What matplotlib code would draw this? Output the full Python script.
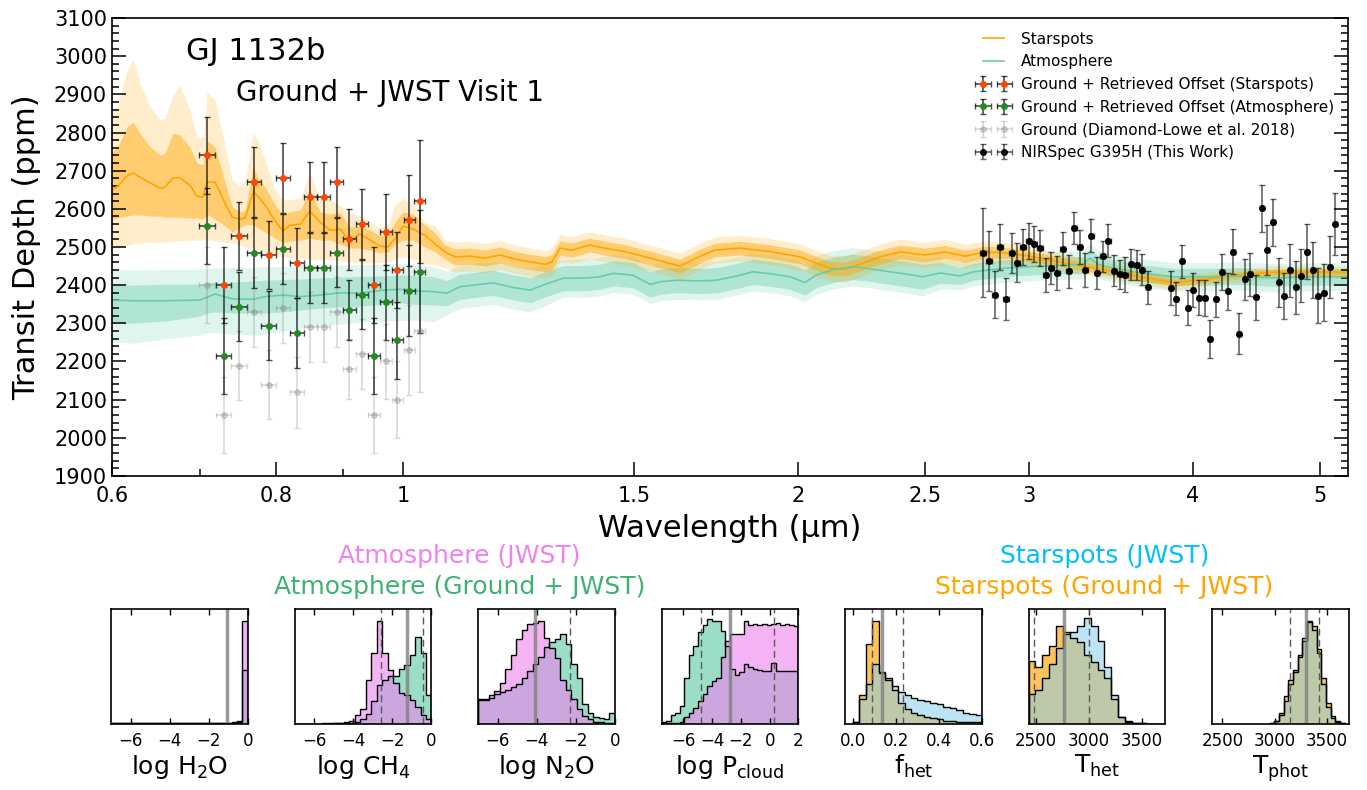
import numpy as np
import matplotlib.pyplot as plt
from matplotlib.ticker import FixedLocator, FixedFormatter, LogLocator, NullFormatter, MultipleLocator

# ---------------- transmission spectrum data ----------------
# ground-based points (Diamond-Lowe et al. 2018)
ground_wl = [0.709, 0.730, 0.750, 0.770, 0.790, 0.810, 0.830, 0.850, 0.870,
             0.890, 0.910, 0.930, 0.950, 0.970, 0.990, 1.011, 1.030]
ground_depth = [2400, 2060, 2189, 2330, 2139, 2340, 2119, 2290, 2290,
                2330, 2180, 2220, 2060, 2200, 2100, 2230, 2280]
ground_err = [100, 99, 90, 92, 90, 92, 92, 92, 92, 91, 79, 91, 100, 99, 100, 119, 161]
ground_halfwidth = 0.01
offset_spots = 340   # retrieved offset, starspot model
offset_atm = 155     # retrieved offset, atmosphere model

# NIRSpec G395H
nirspec_wl = [2.768, 2.796, 2.824, 2.852, 2.881, 2.909, 2.939, 2.968, 2.998, 3.028,
              3.058, 3.089, 3.120, 3.151, 3.183, 3.215, 3.247, 3.279, 3.312, 3.345,
              3.379, 3.413, 3.447, 3.481, 3.516, 3.552, 3.587, 3.623, 3.659, 3.696,
              3.846, 3.885, 3.924, 3.963, 4.003, 4.043, 4.083, 4.124, 4.166, 4.207,
              4.250, 4.292, 4.335, 4.379, 4.422, 4.467, 4.512, 4.557, 4.602, 4.648,
              4.695, 4.742, 4.790, 4.838, 4.886, 4.935, 4.984, 5.034, 5.085, 5.136]
nirspec_depth = [2485, 2463, 2375, 2500, 2365, 2484, 2459, 2500, 2515, 2507,
                 2497, 2427, 2444, 2431, 2496, 2436, 2551, 2500, 2440, 2530,
                 2432, 2476, 2516, 2438, 2428, 2427, 2455, 2453, 2441, 2394,
                 2393, 2365, 2462, 2341, 2387, 2367, 2366, 2260, 2363, 2434,
                 2384, 2488, 2273, 2415, 2428, 2368, 2601, 2492, 2565, 2408,
                 2372, 2439, 2394, 2425, 2488, 2440, 2372, 2380, 2447, 2561]
nirspec_err = [116, 78, 61, 59, 55, 52, 51, 48, 47, 47,
               47, 45, 42, 45, 42, 44, 42, 44, 44, 43,
               41, 41, 43, 41, 39, 46, 41, 39, 41, 44,
               44, 44, 44, 45, 44, 46, 48, 50, 46, 48,
               48, 58, 53, 53, 57, 59, 62, 66, 62, 64,
               61, 69, 69, 70, 71, 74, 72, 75, 81, 81]
nirspec_halfwidth = 0.014

# starspot model: median, 1 sigma and 2 sigma envelopes
spot_wl = [0.600, 0.6065, 0.616, 0.623, 0.630, 0.6415, 0.653, 0.6585, 0.668, 0.676,
           0.688, 0.6965, 0.704, 0.709, 0.719, 0.732, 0.741, 0.751, 0.758, 0.769,
           0.775, 0.785, 0.799, 0.810, 0.820, 0.835, 0.849, 0.8645, 0.880, 0.895,
           0.911, 0.927, 0.944, 0.960, 0.974, 0.986, 1.000, 1.018, 1.039, 1.058,
           1.0765, 1.0955, 1.125, 1.155, 1.186, 1.217, 1.250, 1.283, 1.299, 1.317,
           1.345, 1.388, 1.425, 1.476, 1.5425, 1.626, 1.684, 1.729, 1.806, 1.904,
           2.007, 2.1155, 2.172, 2.230, 2.309, 2.392, 2.499, 2.588, 2.681, 2.777,
           2.901, 3.058, 3.2515, 3.427, 3.644, 3.875, 4.085, 4.344, 4.619, 4.911, 5.259]
spot_med = [2649, 2660, 2686, 2694, 2683, 2668, 2654, 2657, 2681, 2681,
            2662, 2633, 2631, 2670, 2670, 2613, 2578, 2573, 2576, 2644,
            2633, 2610, 2568, 2542, 2557, 2560, 2594, 2565, 2544, 2547,
            2516, 2534, 2518, 2502, 2500, 2523, 2555, 2547, 2531, 2508,
            2487, 2474, 2476, 2471, 2479, 2468, 2461, 2455, 2461, 2497,
            2492, 2505, 2497, 2488, 2471, 2450, 2476, 2492, 2497, 2488,
            2474, 2444, 2442, 2455, 2474, 2487, 2479, 2487, 2476, 2487,
            2484, 2471, 2453, 2440, 2422, 2406, 2416, 2427, 2434, 2434, 2434]
spot_hi1 = [2749, 2764, 2814, 2827, 2799, 2762, 2741, 2746, 2799, 2793,
            2762, 2720, 2715, 2780, 2762, 2668, 2605, 2592, 2597, 2709,
            2681, 2657, 2610, 2584, 2592, 2597, 2649, 2592, 2586, 2592,
            2552, 2555, 2544, 2529, 2534, 2565, 2592, 2586, 2558, 2537,
            2505, 2495, 2497, 2492, 2500, 2488, 2481, 2475, 2481, 2516,
            2511, 2523, 2515, 2506, 2489, 2468, 2494, 2510, 2515, 2506,
            2492, 2462, 2460, 2473, 2492, 2505, 2497, 2504, 2492, 2502,
            2498, 2484, 2464, 2450, 2432, 2415, 2425, 2435, 2442, 2442, 2442]
spot_lo1 = [2573, 2576, 2581, 2584, 2584, 2581, 2581, 2578, 2578, 2578,
            2576, 2576, 2573, 2586, 2573, 2555, 2539, 2550, 2560, 2558,
            2550, 2539, 2523, 2510, 2516, 2518, 2523, 2518, 2518, 2508,
            2497, 2497, 2492, 2484, 2487, 2508, 2518, 2518, 2500, 2487,
            2468, 2453, 2455, 2450, 2458, 2448, 2441, 2435, 2441, 2478,
            2473, 2487, 2479, 2470, 2453, 2432, 2458, 2474, 2479, 2470,
            2456, 2426, 2424, 2437, 2456, 2469, 2461, 2470, 2460, 2472,
            2470, 2458, 2442, 2430, 2412, 2397, 2407, 2419, 2426, 2426, 2426]
spot_hi2 = [2846, 2872, 2964, 2990, 2930, 2867, 2833, 2838, 2898, 2924,
            2859, 2788, 2788, 2906, 2885, 2762, 2675, 2660, 2675, 2799,
            2780, 2728, 2649, 2623, 2623, 2628, 2694, 2628, 2623, 2610,
            2589, 2581, 2565, 2550, 2560, 2610, 2628, 2607, 2565, 2555,
            2518, 2513, 2515, 2510, 2517, 2505, 2498, 2491, 2497, 2533,
            2527, 2540, 2532, 2523, 2505, 2484, 2510, 2526, 2531, 2522,
            2508, 2478, 2476, 2489, 2508, 2521, 2512, 2520, 2507, 2516,
            2511, 2496, 2475, 2460, 2441, 2424, 2433, 2443, 2450, 2450, 2450]
spot_lo2 = [2497, 2500, 2505, 2508, 2510, 2513, 2513, 2513, 2516, 2516,
            2518, 2518, 2518, 2518, 2516, 2513, 2510, 2505, 2500, 2495,
            2492, 2487, 2479, 2474, 2471, 2471, 2468, 2468, 2466, 2463,
            2461, 2458, 2458, 2458, 2461, 2471, 2474, 2468, 2458, 2453,
            2445, 2434, 2437, 2432, 2441, 2431, 2424, 2419, 2425, 2461,
            2457, 2470, 2462, 2453, 2437, 2416, 2442, 2458, 2463, 2454,
            2440, 2410, 2408, 2421, 2440, 2453, 2446, 2454, 2445, 2458,
            2457, 2446, 2431, 2420, 2403, 2388, 2399, 2411, 2418, 2418, 2418]

# atmosphere model
atm_wl = [0.600, 0.623, 0.6585, 0.700, 0.709, 0.719, 0.741, 0.769, 0.785, 0.810,
          0.835, 0.8645, 0.895, 0.927, 0.9655, 0.9947, 1.025, 1.054, 1.080, 1.105,
          1.131, 1.171, 1.213, 1.250, 1.278, 1.324, 1.381, 1.413, 1.446, 1.497,
          1.543, 1.570, 1.618, 1.684, 1.734, 1.796, 1.848, 1.914, 1.972, 2.024,
          2.067, 2.126, 2.200, 2.256, 2.350, 2.420, 2.489, 2.566, 2.658, 2.720,
          2.887, 3.058, 3.240, 3.292, 3.338, 3.385, 3.439, 3.644, 3.862, 4.099,
          4.344, 4.603, 4.886, 5.259]
atm_med = [2361, 2359, 2359, 2361, 2368, 2377, 2364, 2363, 2370, 2374,
           2370, 2374, 2380, 2379, 2387, 2389, 2385, 2383, 2379, 2396,
           2400, 2406, 2394, 2387, 2400, 2418, 2419, 2422, 2431, 2426,
           2402, 2409, 2413, 2411, 2413, 2424, 2435, 2429, 2422, 2407,
           2427, 2440, 2448, 2444, 2435, 2429, 2422, 2432, 2424, 2435,
           2445, 2450, 2453, 2453, 2471, 2455, 2448, 2432, 2422, 2422,
           2424, 2419, 2422, 2422]
atm_hi1 = [2400, 2400, 2402, 2403, 2406, 2408, 2408, 2411, 2413, 2415,
           2416, 2419, 2421, 2423, 2424, 2427, 2425, 2422, 2412, 2429,
           2433, 2439, 2427, 2420, 2433, 2451, 2452, 2455, 2464, 2459,
           2435, 2442, 2446, 2444, 2446, 2457, 2468, 2462, 2455, 2440,
           2460, 2473, 2481, 2477, 2468, 2462, 2455, 2459, 2446, 2457,
           2467, 2472, 2475, 2475, 2493, 2477, 2470, 2454, 2444, 2444,
           2446, 2441, 2444, 2444]
atm_lo1 = [2301, 2301, 2306, 2319, 2327, 2330, 2327, 2327, 2327, 2330,
           2335, 2340, 2343, 2345, 2350, 2353, 2350, 2348, 2346, 2363,
           2367, 2373, 2361, 2354, 2367, 2385, 2386, 2389, 2398, 2393,
           2369, 2376, 2380, 2378, 2380, 2391, 2402, 2396, 2389, 2374,
           2394, 2407, 2415, 2411, 2402, 2396, 2389, 2405, 2402, 2413,
           2423, 2428, 2431, 2431, 2449, 2433, 2426, 2410, 2400, 2400,
           2402, 2397, 2400, 2400]
atm_hi2 = [2440, 2440, 2441, 2442, 2444, 2445, 2446, 2447, 2448, 2449,
           2450, 2451, 2453, 2454, 2455, 2457, 2454, 2448, 2436, 2453,
           2457, 2463, 2451, 2444, 2457, 2468, 2469, 2472, 2481, 2476,
           2452, 2459, 2463, 2461, 2463, 2474, 2485, 2479, 2472, 2457,
           2477, 2490, 2498, 2494, 2485, 2479, 2472, 2474, 2461, 2472,
           2482, 2487, 2490, 2490, 2508, 2492, 2485, 2469, 2459, 2459,
           2461, 2456, 2459, 2459]
atm_lo2 = [2251, 2248, 2259, 2269, 2275, 2275, 2272, 2269, 2272, 2280,
           2288, 2293, 2298, 2303, 2306, 2307, 2309, 2304, 2322, 2339,
           2343, 2349, 2337, 2330, 2343, 2368, 2369, 2372, 2381, 2376,
           2352, 2359, 2363, 2361, 2363, 2374, 2385, 2379, 2372, 2357,
           2377, 2390, 2398, 2394, 2385, 2379, 2372, 2390, 2387, 2398,
           2408, 2413, 2416, 2416, 2434, 2418, 2411, 2395, 2385, 2385,
           2387, 2382, 2385, 2385]

# ---------------- posterior histograms (normalised heights) ----------------
h2o_jwst = [0.005, 0.005, 0.005, 0.005, 0.005, 0.005, 0.005, 0.005, 0.005, 0.005,
            0.005, 0.005, 0.005, 0.005, 0.005, 0.005, 0.005, 0.005, 0.005, 0.005,
            0.006, 0.008, 0.010, 0.020, 0.900]
h2o_joint = [0.006, 0.006, 0.006, 0.006, 0.006, 0.006, 0.006, 0.006, 0.006, 0.006,
             0.006, 0.006, 0.006, 0.006, 0.006, 0.006, 0.006, 0.007, 0.007, 0.008,
             0.010, 0.012, 0.020, 0.030, 0.470]
ch4_jwst = [0.003, 0.003, 0.003, 0.003, 0.004, 0.005, 0.006, 0.008, 0.010, 0.015,
            0.030, 0.080, 0.130, 0.380, 0.620, 0.900, 0.620, 0.470, 0.360, 0.270,
            0.250, 0.210, 0.150, 0.080, 0.040]
ch4_joint = [0.003, 0.003, 0.003, 0.003, 0.003, 0.004, 0.004, 0.005, 0.006, 0.008,
             0.012, 0.020, 0.040, 0.090, 0.200, 0.340, 0.380, 0.420, 0.420, 0.480,
             0.510, 0.600, 0.760, 0.620, 0.250]
n2o_jwst = [0.21, 0.22, 0.25, 0.29, 0.36, 0.48, 0.60, 0.74, 0.82, 0.87,
            0.88, 0.90, 0.75, 0.66, 0.57, 0.38, 0.30, 0.22, 0.13, 0.07,
            0.04, 0.02, 0.015, 0.01, 0.01]
n2o_joint = [0.22, 0.21, 0.23, 0.26, 0.28, 0.30, 0.32, 0.35, 0.40, 0.46,
             0.52, 0.58, 0.67, 0.71, 0.74, 0.78, 0.70, 0.52, 0.40, 0.17,
             0.10, 0.06, 0.05, 0.04, 0.10]
pcloud_jwst = [0.000, 0.005, 0.01, 0.01, 0.02, 0.06, 0.10, 0.14, 0.20, 0.26,
               0.33, 0.37, 0.40, 0.58, 0.72, 0.78, 0.78, 0.78, 0.90, 0.86,
               0.87, 0.86, 0.87, 0.86, 0.87, 0.88, 0.86, 0.87, 0.86, 0.85]
pcloud_joint = [0.02, 0.03, 0.08, 0.10, 0.16, 0.40, 0.60, 0.68, 0.80, 0.86,
                0.91, 0.90, 0.90, 0.81, 0.68, 0.48, 0.43, 0.45, 0.52, 0.50,
                0.48, 0.47, 0.46, 0.46, 0.53, 0.46, 0.46, 0.46, 0.46, 0.46]
fhet_jwst = [0.02, 0.22, 0.35, 0.52, 0.44, 0.38, 0.33, 0.28, 0.25, 0.23,
             0.21, 0.20, 0.18, 0.17, 0.15, 0.14, 0.12, 0.10, 0.09, 0.08]
fhet_joint = [0.02, 0.25, 0.70, 0.90, 0.45, 0.40, 0.30, 0.18, 0.13, 0.10,
              0.08, 0.06, 0.05, 0.04, 0.03, 0.03, 0.02, 0.02, 0.02, 0.02]
thet_jwst = [0.26, 0.30, 0.40, 0.52, 0.66, 0.78, 0.80, 0.85, 0.92, 0.85,
             0.72, 0.50, 0.25, 0.06, 0.03, 0.01, 0.005, 0.0, 0.0, 0.0]
thet_joint = [0.55, 0.50, 0.60, 0.68, 0.85, 0.80, 0.75, 0.71, 0.60, 0.54,
              0.47, 0.40, 0.22, 0.06, 0.02, 0.01, 0.005, 0.0, 0.0, 0.0]
tphot_jwst = [0.01, 0.03, 0.08, 0.20, 0.35, 0.45, 0.58, 0.75, 0.90, 0.82,
              0.62, 0.35, 0.15, 0.05, 0.02, 0.01]
tphot_joint = [0.01, 0.03, 0.10, 0.24, 0.38, 0.47, 0.60, 0.72, 0.89, 0.85,
               0.65, 0.40, 0.18, 0.07, 0.03, 0.01]

# ---------------- main panel ----------------
fig = plt.figure(figsize=(13.67, 7.9), dpi=100)
ax = fig.add_axes([0.0819, 0.3975, 0.9042, 0.5797])

ax.fill_between(atm_wl, atm_lo2, atm_hi2, color='mediumaquamarine', alpha=0.2, lw=0)
ax.fill_between(atm_wl, atm_lo1, atm_hi1, color='mediumaquamarine', alpha=0.4, lw=0)
ax.fill_between(spot_wl, spot_lo2, spot_hi2, color='orange', alpha=0.2, lw=0)
ax.fill_between(spot_wl, spot_lo1, spot_hi1, color='orange', alpha=0.45, lw=0)
l_spot, = ax.plot(spot_wl, spot_med, color='orange', lw=1.2, label='Starspots')
l_atm, = ax.plot(atm_wl, atm_med, color='mediumaquamarine', lw=1.2, label='Atmosphere')

ground = np.array(ground_depth)
e_gray = ax.errorbar(ground_wl, ground, yerr=ground_err, xerr=ground_halfwidth, fmt='o',
                     color='gray', ms=4, elinewidth=1.2, capsize=2.5, alpha=0.3)
e_green = ax.errorbar(ground_wl, ground + offset_atm, yerr=ground_err, xerr=ground_halfwidth,
                      fmt='o', color='forestgreen', ms=4, ecolor=(0, 0, 0, 0.7),
                      elinewidth=1.2, capsize=2.5)
e_red = ax.errorbar(ground_wl, ground + offset_spots, yerr=ground_err, xerr=ground_halfwidth,
                    fmt='o', color='orangered', ms=4, ecolor=(0, 0, 0, 0.7),
                    elinewidth=1.2, capsize=2.5)
e_black = ax.errorbar(nirspec_wl, nirspec_depth, yerr=nirspec_err, xerr=nirspec_halfwidth,
                      fmt='o', color='k', ms=4, ecolor=(0, 0, 0, 0.6),
                      elinewidth=1.2, capsize=2.5)

ax.legend([l_spot, l_atm, e_red, e_green, e_gray, e_black],
          ['Starspots', 'Atmosphere', 'Ground + Retrieved Offset (Starspots)',
           'Ground + Retrieved Offset (Atmosphere)', 'Ground (Diamond-Lowe et al. 2018)',
           'NIRSpec G395H (This Work)'],
          loc='upper right', frameon=False, fontsize=11, numpoints=2,
          labelspacing=0.5, handlelength=2.0, handletextpad=0.8, borderaxespad=0.5)

ax.set_xscale('log')
ax.set_xlim(0.6, 5.25)
ax.set_ylim(1900, 3100)
xt = [0.6, 0.8, 1, 1.5, 2, 2.5, 3, 4, 5]
ax.xaxis.set_major_locator(FixedLocator(xt))
ax.xaxis.set_major_formatter(FixedFormatter(['0.6', '0.8', '1', '1.5', '2', '2.5', '3', '4', '5']))
ax.xaxis.set_minor_locator(LogLocator(base=10, subs=np.arange(2, 10)))
ax.xaxis.set_minor_formatter(NullFormatter())
ax.yaxis.set_major_locator(MultipleLocator(100))
ax.yaxis.set_minor_locator(MultipleLocator(20))
ax.tick_params(which='both', direction='in', right=True, top=False, width=1.1, labelsize=15)
ax.tick_params(which='major', length=10)
ax.tick_params(which='minor', length=5)
ax.tick_params(axis='x', pad=7)
for s in ax.spines.values():
    s.set_linewidth(1.2)
ax.set_xlabel('Wavelength (µm)', fontsize=22, labelpad=6)
ax.set_ylabel('Transit Depth (ppm)', fontsize=22, labelpad=9)

ax.text(0.060, 0.908, 'GJ 1132b', transform=ax.transAxes, fontsize=22, va='baseline')
ax.text(0.100, 0.819, 'Ground + JWST Visit 1', transform=ax.transAxes, fontsize=20, va='baseline')

# ---------------- posterior panels ----------------
panels = [
    ('log H$_2$O', (-7, 0), np.linspace(-7, 0, 26), h2o_jwst, h2o_joint, 'atm',
     [-6, -4, -2, 0], ['−6', '−4', '−2', '0'], -1.07, []),
    ('log CH$_4$', (-7, 0), np.linspace(-7, 0, 26), ch4_jwst, ch4_joint, 'atm',
     [-6, -4, -2, 0], ['−6', '−4', '−2', '0'], -1.26, [-2.57, -0.44]),
    ('log N$_2$O', (-7, 0), np.linspace(-7, 0, 26), n2o_jwst, n2o_joint, 'atm',
     [-6, -4, -2, 0], ['−6', '−4', '−2', '0'], -4.08, [-2.28]),
    ('log P$_{\\rm cloud}$', (-7.5, 2), np.linspace(-7.5, 2, 31), pcloud_jwst, pcloud_joint, 'atm',
     [-6, -4, -2, 0, 2], ['−6', '−4', '−2', '0', '2'], -2.74, [-4.77, 0.31]),
    ('f$_{\\rm het}$', (-0.037, 0.6), np.linspace(0, 0.6, 21), fhet_jwst, fhet_joint, 'spot',
     [0, 0.2, 0.4, 0.6], ['0.0', '0.2', '0.4', '0.6'], 0.137, [0.09, 0.232]),
    ('T$_{\\rm het}$', (2430, 3720), np.linspace(2430, 3730, 21), thet_jwst, thet_joint, 'spot',
     [2500, 3000, 3500], ['2500', '3000', '3500'], 2761, [2483, 3004]),
    ('T$_{\\rm phot}$', (2400, 3710), np.linspace(2950, 3670, 17), tphot_jwst, tphot_joint, 'spot',
     [2500, 3000, 3500], ['2500', '3000', '3500'], 3296, [3144, 3420]),
]

for i, (lab, lim, edges, h_jwst, h_joint, kind, ticks, tlabels, solid, dashed) in enumerate(panels):
    hx = fig.add_axes([(111 + 183.5 * i) / 1367, 0.0835, 0.1002, 0.1456])
    if kind == 'atm':
        hx.stairs(h_joint, edges, fill=True, color='mediumaquamarine', alpha=0.65, lw=0)
        hx.stairs(h_jwst, edges, fill=True, color='violet', alpha=0.6, lw=0)
    else:
        hx.stairs(h_joint, edges, fill=True, color='orange', alpha=0.65, lw=0)
        hx.stairs(h_jwst, edges, fill=True, color='skyblue', alpha=0.55, lw=0)
    hx.stairs(h_joint, edges, color='k', lw=1.0)
    hx.stairs(h_jwst, edges, color='k', lw=1.0)
    hx.axvline(solid, color='gray', lw=2.5, alpha=0.8)
    for d in dashed:
        hx.axvline(d, color='0.35', lw=1.0, ls=(0, (5, 3)))
    hx.set_xlim(*lim)
    hx.set_ylim(0, 1.0)
    hx.set_yticks([])
    hx.set_xticks(ticks)
    hx.set_xticklabels(tlabels)
    hx.tick_params(axis='x', direction='in', top=True, length=4, width=1.0, labelsize=12, pad=6)
    for s in hx.spines.values():
        s.set_linewidth(1.2)
    hx.set_xlabel(lab, fontsize=18, labelpad=2)

fig.text(0.336, 0.2873, 'Atmosphere (JWST)', color='violet', fontsize=18, ha='center', va='baseline')
fig.text(0.336, 0.2481, 'Atmosphere (Ground + JWST)', color='mediumseagreen', fontsize=18,
         ha='center', va='baseline')
fig.text(0.808, 0.2873, 'Starspots (JWST)', color='deepskyblue', fontsize=18, ha='center', va='baseline')
fig.text(0.808, 0.2481, 'Starspots (Ground + JWST)', color='orange', fontsize=18,
         ha='center', va='baseline')

fig.savefig('out.png', dpi=100)
